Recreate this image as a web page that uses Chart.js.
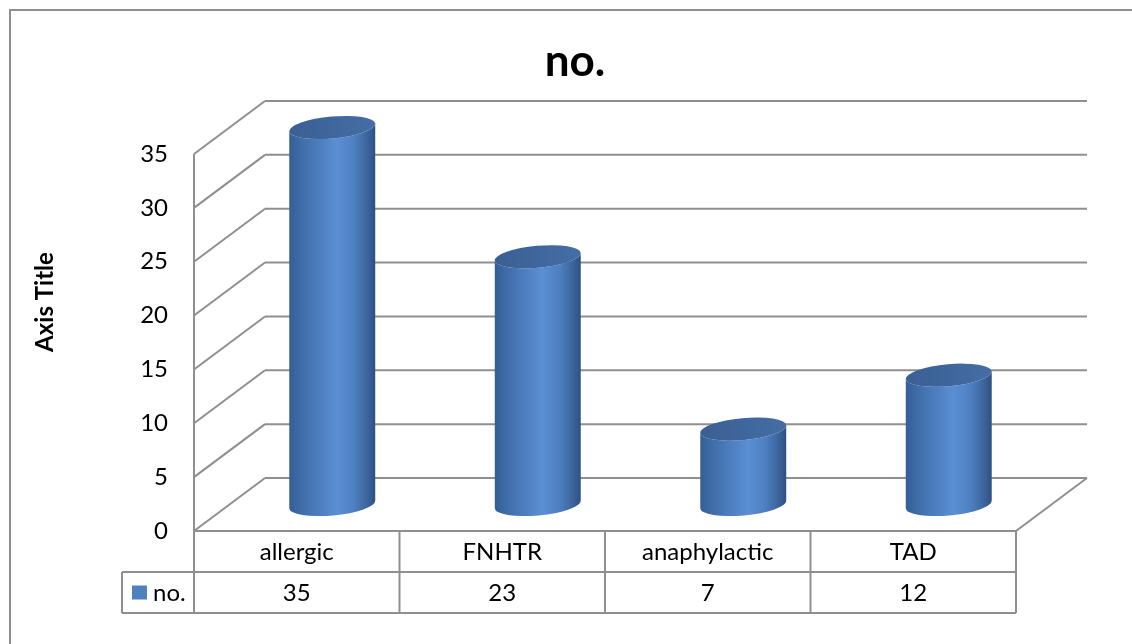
<!DOCTYPE html>
<html>
<head>
<meta charset="utf-8">
<script src="https://cdn.jsdelivr.net/npm/chart.js@4.4.0/dist/chart.umd.min.js"></script>
<style>
  html, body { margin: 0; padding: 0; background: #ffffff; }
  #wrap { width: 1132px; height: 644px; position: relative; }
</style>
</head>
<body>
<div id="wrap"><canvas id="chart" width="1132" height="644"></canvas></div>
<script>
// ---- data ----
const categories = ['allergic', 'FNHTR', 'anaphylactic', 'TAD'];
const seriesName = 'no.';
const values = [35, 23, 7, 12];
const yTicks = [0, 5, 10, 15, 20, 25, 30, 35];
const chartTitle = 'no.';
const axisTitle = 'Axis Title';

// ---- look ----
const DEPTH_X = 71;      // oblique depth of the 3D box
const DEPTH_Y = -53;
const LINE = '#8f8f8f';
const FONT = 'Lato, "Open Sans", sans-serif';
const SERIES_COLOR = '#4f81bd';

function line(ctx, x1, y1, x2, y2) {
  ctx.beginPath();
  ctx.moveTo(x1, y1);
  ctx.lineTo(x2, y2);
  ctx.stroke();
}

// Back wall, side wall and floor of the 3D plot box
const wallsPlugin = {
  id: 'walls',
  beforeDatasetsDraw(chart) {
    const ctx = chart.ctx;
    const { left, right, top, bottom } = chart.chartArea;
    const ya = chart.scales.y;
    ctx.save();
    ctx.strokeStyle = LINE;
    ctx.lineWidth = 2;
    ctx.lineCap = 'butt';
    yTicks.forEach(v => {
      const y = ya.getPixelForValue(v);
      line(ctx, left, y, left + DEPTH_X, y + DEPTH_Y);
      line(ctx, left + DEPTH_X, y + DEPTH_Y, right + DEPTH_X, y + DEPTH_Y);
    });
    line(ctx, left, top, left, bottom);
    line(ctx, left, bottom, right, bottom);
    line(ctx, right, bottom, right + DEPTH_X, bottom + DEPTH_Y);
    ctx.restore();
  }
};

function drawCylinder(ctx, cx, yTop, yBot, rx, ry, rot) {
  // body
  const grad = ctx.createLinearGradient(cx - rx, 0, cx + rx, 0);
  grad.addColorStop(0, '#335e97');
  grad.addColorStop(0.12, '#3e6ba6');
  grad.addColorStop(0.55, '#5a8fd4');
  grad.addColorStop(0.75, '#4e80c2');
  grad.addColorStop(0.92, '#3a6299');
  grad.addColorStop(1, '#2d4f7f');
  const c = Math.cos(rot), s = Math.sin(rot);
  ctx.beginPath();
  ctx.moveTo(cx - rx * c, yTop - rx * s);
  ctx.ellipse(cx, yBot, rx, ry, rot, Math.PI, 0, true);
  ctx.lineTo(cx + rx * c, yTop + rx * s);
  ctx.ellipse(cx, yTop, rx, ry, rot, 0, Math.PI, false);
  ctx.closePath();
  ctx.fillStyle = grad;
  ctx.fill();
  // cap
  const capGrad = ctx.createLinearGradient(cx - rx, yTop, cx + rx, yTop);
  capGrad.addColorStop(0, '#3a5f93');
  capGrad.addColorStop(1, '#456ea6');
  ctx.beginPath();
  ctx.ellipse(cx, yTop, rx, ry, rot, 0, Math.PI * 2);
  ctx.fillStyle = capGrad;
  ctx.fill();
}

// Cylinders placed on the bar elements, pushed half-way into the box
const cylinderPlugin = {
  id: 'cylinders',
  afterDatasetsDraw(chart) {
    const ctx = chart.ctx;
    const meta = chart.getDatasetMeta(0);
    ctx.save();
    meta.data.forEach(bar => {
      const cx = bar.x + DEPTH_X / 2;
      const yTop = bar.y + DEPTH_Y / 2;
      const yBot = bar.base + DEPTH_Y / 2;
      drawCylinder(ctx, cx, yTop, yBot, bar.width / 2, 11, -0.09);
    });
    ctx.restore();
  }
};

// Frame, titles and the data table under the plot
const framePlugin = {
  id: 'frame',
  beforeDraw(chart) {
    const ctx = chart.ctx;
    ctx.save();
    ctx.fillStyle = '#ffffff';
    ctx.fillRect(0, 0, chart.width, chart.height);
    ctx.strokeStyle = LINE;
    ctx.lineWidth = 2;
    ctx.beginPath();
    ctx.moveTo(10, chart.height);
    ctx.lineTo(10, 10);
    ctx.lineTo(chart.width, 10);
    ctx.stroke();
    ctx.restore();
  },
  afterDraw(chart) {
    const ctx = chart.ctx;
    const { left, right, bottom } = chart.chartArea;
    const xa = chart.scales.x;
    const colW = (right - left) / categories.length;
    const rowH = 41;
    const r1 = bottom, r2 = bottom + rowH, r3 = bottom + 2 * rowH;
    const legendLeft = 122;
    ctx.save();
    // titles
    ctx.fillStyle = '#000000';
    ctx.textAlign = 'center';
    ctx.textBaseline = 'middle';
    ctx.font = 'bold 44px ' + FONT;
    ctx.fillText(chartTitle, 575, 62);
    ctx.save();
    ctx.translate(45, 302);
    ctx.rotate(-Math.PI / 2);
    ctx.font = 'bold 24px ' + FONT;
    ctx.fillText(axisTitle, 0, 0);
    ctx.restore();

    // table grid
    ctx.strokeStyle = LINE;
    ctx.lineWidth = 2;
    line(ctx, legendLeft, r2, right, r2);
    line(ctx, legendLeft, r3, right, r3);
    line(ctx, legendLeft, r2, legendLeft, r3);
    categories.forEach((c, i) => {
      const xc = xa.getPixelForValue(i);
      line(ctx, xc - colW / 2, r1, xc - colW / 2, r3);
    });
    line(ctx, right, r1, right, r3);

    // table text
    ctx.font = '24px ' + FONT;
    ctx.fillStyle = '#000000';
    categories.forEach((c, i) => {
      const xc = xa.getPixelForValue(i);
      ctx.fillText(c, xc, (r1 + r2) / 2 + 1);
      ctx.fillText(String(values[i]), xc, (r2 + r3) / 2 + 1);
    });
    // legend key
    ctx.fillStyle = SERIES_COLOR;
    ctx.fillRect(132, (r2 + r3) / 2 - 7, 15, 14);
    ctx.fillStyle = '#000000';
    ctx.textAlign = 'left';
    ctx.fillText(seriesName, 153, (r2 + r3) / 2 + 1);
    ctx.restore();
  }
};

new Chart(document.getElementById('chart'), {
  type: 'bar',
  data: {
    labels: categories,
    datasets: [{
      label: seriesName,
      data: values,
      backgroundColor: 'rgba(0,0,0,0)',
      borderWidth: 0,
      categoryPercentage: 0.84,
      barPercentage: 0.5
    }]
  },
  options: {
    responsive: false,
    animation: false,
    layout: { padding: { left: 22, right: 116, top: 154, bottom: 113 } },
    plugins: {
      legend: { display: false },
      title: { display: false },
      tooltip: { enabled: false }
    },
    scales: {
      x: { display: false },
      y: {
        min: 0,
        max: 35,
        afterFit(scale) { scale.width = 172; },
        afterBuildTicks(scale) { scale.ticks = yTicks.map(v => ({ value: v })); },
        grid: { display: false, drawTicks: false },
        border: { display: false },
        ticks: {
          padding: 26,
          color: '#000000',
          font: { family: FONT, size: 24 }
        }
      }
    }
  },
  plugins: [framePlugin, wallsPlugin, cylinderPlugin]
});
</script>
</body>
</html>
